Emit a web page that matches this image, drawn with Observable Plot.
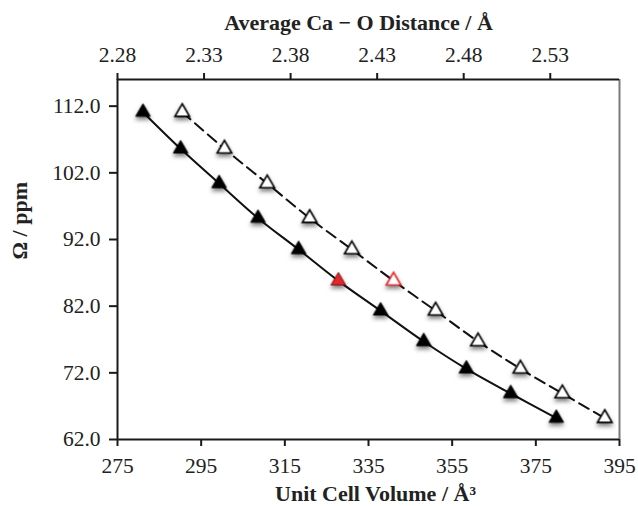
<!DOCTYPE html>
<html>
<head>
<meta charset="utf-8">
<script src="https://cdn.jsdelivr.net/npm/d3@7"></script>
<script src="https://cdn.jsdelivr.net/npm/@observablehq/plot@0.6"></script>
<style>
  html, body { margin: 0; padding: 0; background: #fff; }
  #chart svg { font-family: "Liberation Serif", "Times New Roman", serif; }
</style>
</head>
<body>
<div id="chart"></div>
<script>
// Isotropic shielding Ω (ppm) for each structure
const omega = [111.1, 105.6, 100.4, 95.2, 90.5, 85.8, 81.3, 76.7, 72.6, 68.9, 65.2];
// Unit cell volume (Å³), plotted against the bottom axis
const volume = [281.1, 290.1, 299.3, 308.6, 318.3, 327.8, 337.9, 348.2, 358.4, 369.0, 379.9];
// Average Ca–O distance (Å), plotted against the top axis
const distance = [2.3174, 2.3418, 2.3665, 2.391, 2.4154, 2.4395, 2.4638, 2.4883, 2.5128, 2.537, 2.5615];
// Index of the highlighted (experimental) structure
const highlight = 5;

const volumeTicks = [275, 295, 315, 335, 355, 375, 395];
const distanceTicks = [2.28, 2.33, 2.38, 2.43, 2.48, 2.53];
const omegaTicks = [62, 72, 82, 92, 102, 112];

const volumeDomain = [275, 395];
const distanceDomain = [2.28, 2.57];
const omegaDomain = [62, 116];

const xTitle = "Unit Cell Volume / Å³";
const topTitle = "Average Ca − O Distance / Å";
const yTitle = "Ω / ppm";

// The top axis shares the x scale: distances are mapped linearly onto volume units
const toVolume = d3.scaleLinear().domain(distanceDomain).range(volumeDomain);

const filled = volume.map((v, i) => ({x: v, y: omega[i], red: i === highlight}));
const open = distance.map((d, i) => ({x: toVolume(d), y: omega[i], red: i === highlight}));

const tickFont = 21.5;
const titleFont = 22;

const plot = Plot.plot({
  width: 638,
  height: 506,
  marginLeft: 117,
  marginRight: 19,
  marginTop: 79,
  marginBottom: 67,
  x: {domain: volumeDomain},
  y: {domain: omegaDomain},
  style: {fontFamily: "Liberation Serif, Times New Roman, serif", fontSize: tickFont + "px", color: "#222"},
  marks: [
    // frame
    Plot.ruleX([volumeDomain[1]], {stroke: "#7a7a7a", strokeWidth: 2}),
    Plot.ruleX([volumeDomain[0]], {stroke: "#1a1a1a", strokeWidth: 2}),
    Plot.ruleY([omegaDomain[0]], {stroke: "#1a1a1a", strokeWidth: 2}),
    Plot.ruleY([omegaDomain[1]], {stroke: "#1a1a1a", strokeWidth: 2}),
    // axes
    Plot.axisX({anchor: "bottom", ticks: volumeTicks, tickSize: 7, tickPadding: 11,
      tickFormat: d => String(d), label: null, strokeWidth: 2, stroke: "#1a1a1a", fontSize: tickFont}),
    Plot.axisX(distanceTicks.map(d => toVolume(d)), {anchor: "top", tickSize: 7, tickPadding: 11,
      tickFormat: v => toVolume.invert(v).toFixed(2), label: null, strokeWidth: 2, stroke: "#1a1a1a", fontSize: tickFont}),
    Plot.axisY({anchor: "left", ticks: omegaTicks, tickSize: 8, tickPadding: 9,
      tickFormat: d => d.toFixed(1), label: null, strokeWidth: 2, stroke: "#1a1a1a", fontSize: tickFont}),
    // axis titles
    Plot.text([topTitle], {frameAnchor: "top", lineAnchor: "middle", dy: -57, dx: -10, fontWeight: "bold", fontSize: titleFont, fill: "#222"}),
    Plot.text([xTitle], {frameAnchor: "bottom", lineAnchor: "middle", dy: 54, dx: 7, fontWeight: "bold", fontSize: titleFont, fill: "#222"}),
    Plot.text([yTitle], {frameAnchor: "left", lineAnchor: "middle", dx: -98, rotate: -90, fontWeight: "bold", fontSize: titleFont, fill: "#222"}),
    // series curves
    Plot.line(filled, {x: "x", y: "y", curve: "catmull-rom", stroke: "#111", strokeWidth: 2}),
    Plot.line(open, {x: "x", y: "y", curve: "catmull-rom", stroke: "#111", strokeWidth: 2, strokeDasharray: "11,6"}),
    // markers
    Plot.dot(filled, {x: "x", y: "y", symbol: "triangle", r: 5.4,
      fill: d => d.red ? "#e3262b" : "#000", stroke: d => d.red ? "#7a1010" : "#000", strokeWidth: 1}),
    Plot.dot(open, {x: "x", y: "y", symbol: "triangle", r: 5.4,
      fill: "#fff", stroke: d => d.red ? "#e8262b" : "#000", strokeWidth: 1.6})
  ]
});

// soft drop shadow beneath the triangle markers
plot.querySelectorAll('g[aria-label="dot"]').forEach(g => {
  g.style.filter = "drop-shadow(0px 3px 2px rgba(0,0,0,0.5))";
});

document.getElementById("chart").appendChild(plot);
</script>
</body>
</html>
